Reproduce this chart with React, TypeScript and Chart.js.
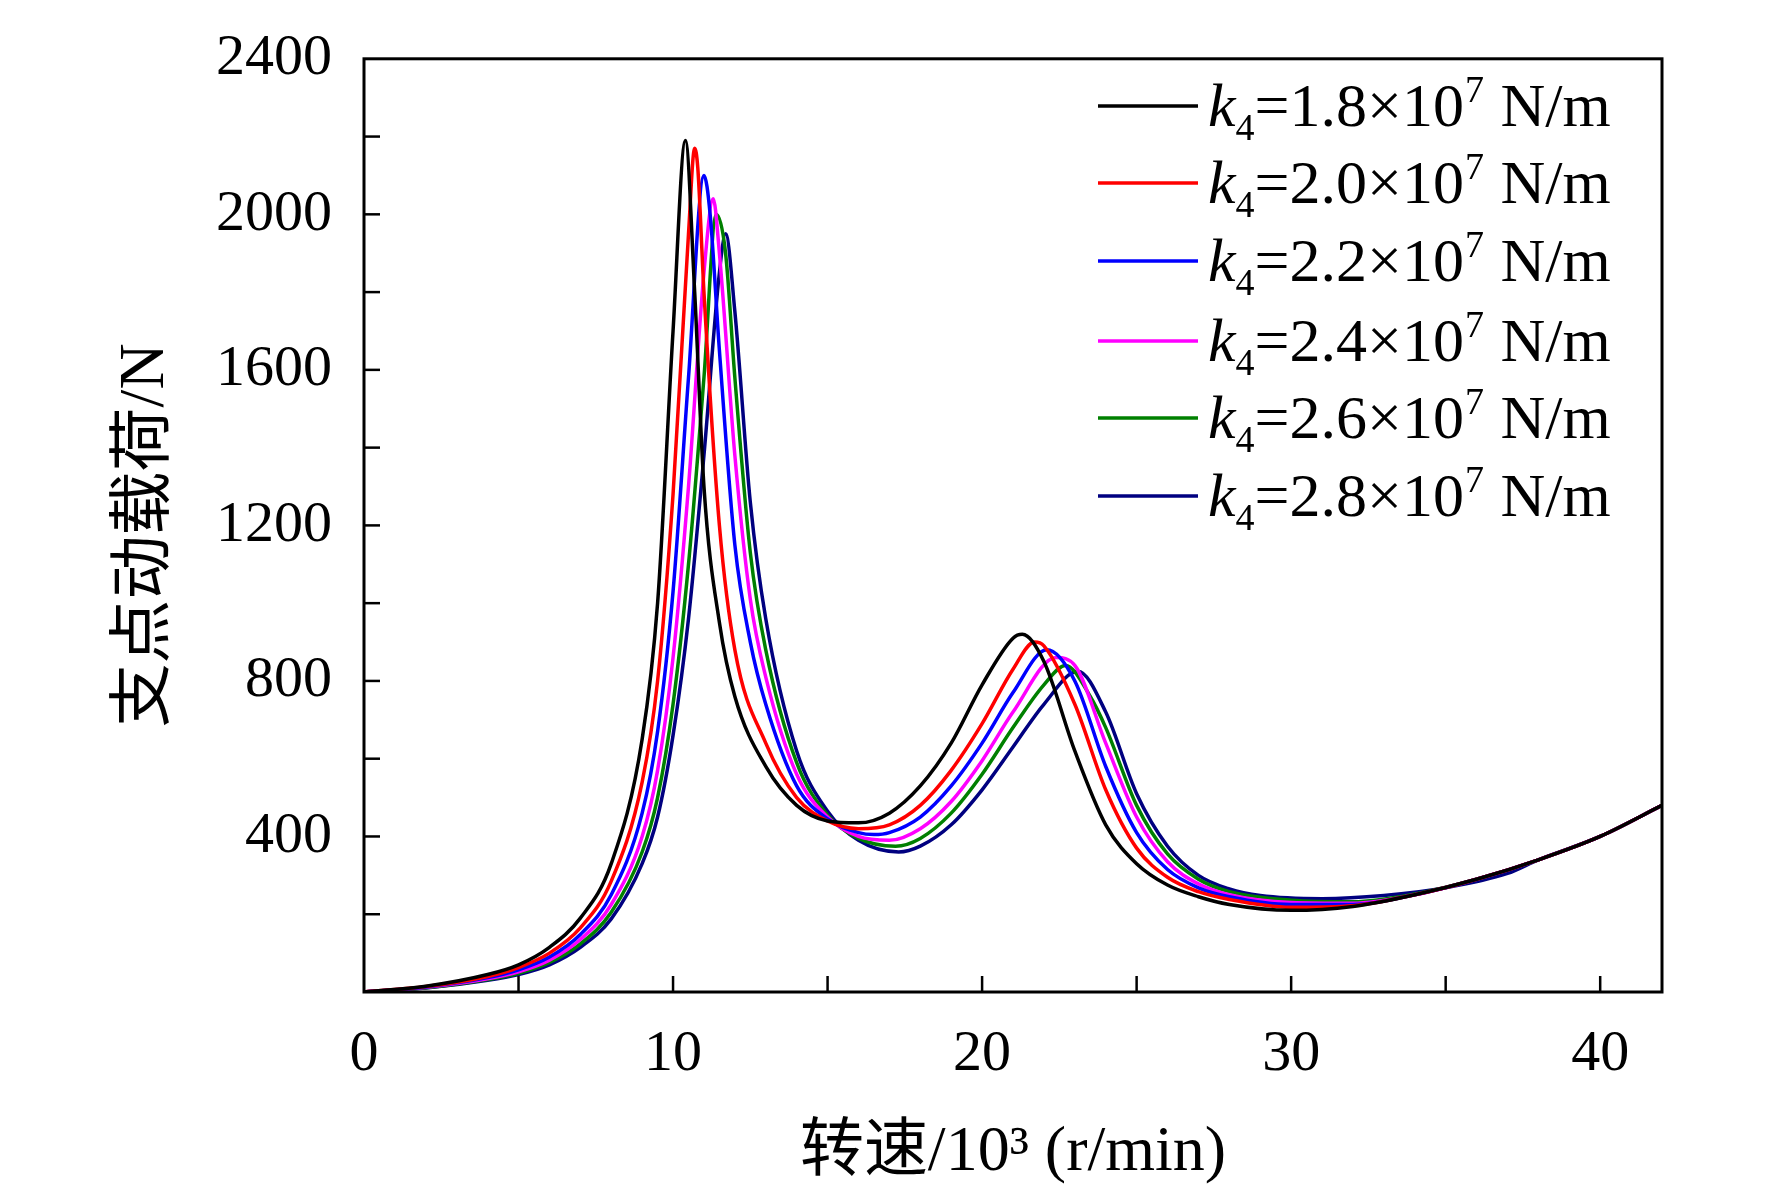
import React, { useEffect, useRef } from "react";
import { Chart, registerables } from "chart.js";
Chart.register(...registerables);

const seriesLabels = ["1.8", "2.0", "2.2", "2.4", "2.6", "2.8"];
const seriesColors = ["#000000", "#ff0000", "#0000ff", "#ff00ff", "#008000", "#000080"];

const xK18 = [0, 2, 4, 5, 6, 7, 8, 9, 9.5, 10, 10.4, 10.7, 11, 11.5, 12, 13, 14, 15, 16, 17, 18, 19, 20, 21, 21.3, 22, 23, 24, 25, 26, 27, 28, 30, 32, 34, 36, 38, 40, 42];
const yK18 = [0, 15, 45, 70, 115, 190, 330, 650, 1000, 1700, 2190, 1800, 1300, 950, 760, 580, 480, 440, 435, 460, 530, 640, 790, 910, 920, 850, 620, 430, 330, 275, 245, 225, 210, 220, 250, 290, 340, 400, 480];

const xK20 = [0, 2, 4, 5, 6, 7, 8, 9, 9.5, 10, 10.5, 10.7, 10.8, 11, 11.5, 12, 13, 14, 15, 16, 17, 18, 19, 20, 21, 21.7, 22, 23, 24, 25, 26, 27, 28, 30, 32, 34, 36, 38, 40, 42];
const yK20 = [0, 14, 40, 63, 100, 165, 285, 540, 800, 1280, 1950, 2170, 2120, 1800, 1200, 880, 640, 500, 440, 420, 430, 480, 570, 690, 830, 900, 890, 740, 520, 370, 295, 258, 238, 218, 222, 250, 290, 340, 400, 480];

const xK22 = [0, 2, 4, 5, 6, 7, 8, 9, 9.5, 10, 10.5, 11, 11.2, 11.5, 12, 12.5, 13, 14, 15, 16, 16.5, 17, 18, 19, 20, 21, 22.1, 23, 24, 25, 26, 27, 28, 30, 32, 34, 36, 38, 40, 42];
const yK22 = [0, 13, 37, 57, 90, 148, 250, 460, 670, 1030, 1580, 2100, 2000, 1650, 1150, 900, 740, 530, 445, 410, 405, 410, 450, 530, 640, 770, 880, 800, 580, 410, 315, 268, 245, 225, 225, 250, 290, 340, 400, 480];

const xK24 = [0, 2, 4, 5, 6, 7, 8, 9, 9.5, 10, 10.5, 11, 11.3, 11.5, 12, 12.5, 13, 14, 15, 16, 17, 18, 19, 20, 21, 22.4, 23, 24, 25, 26, 27, 28, 30, 32, 34, 36, 38, 40, 42];
const yK24 = [0, 12, 34, 52, 82, 135, 225, 400, 570, 860, 1300, 1850, 2040, 1900, 1380, 1010, 810, 560, 450, 400, 390, 420, 490, 595, 720, 860, 840, 640, 450, 335, 278, 250, 230, 228, 250, 290, 340, 400, 480];

const xK26 = [0, 2, 4, 5, 6, 7, 8, 9, 9.5, 10, 10.5, 11, 11.4, 11.7, 12, 12.5, 13, 14, 15, 16, 17.2, 18, 19, 20, 21, 22, 22.7, 23.5, 24, 25, 26, 27, 28, 30, 32, 34, 36, 38, 40, 42];
const yK26 = [0, 11, 32, 48, 76, 124, 205, 360, 500, 740, 1100, 1580, 2000, 1900, 1580, 1130, 880, 590, 455, 395, 375, 395, 460, 560, 680, 790, 840, 760, 680, 480, 355, 290, 258, 236, 232, 252, 290, 340, 400, 480];

const xK28 = [0, 2, 4, 5, 6, 7, 8, 9, 9.5, 10, 10.5, 11, 11.5, 11.7, 12, 12.5, 13, 14, 15, 16, 17.3, 18, 19, 20, 21, 22, 23.1, 24, 25, 26, 27, 28, 29, 31, 33, 35, 37, 38, 40, 42];
const yK28 = [0, 10, 30, 45, 70, 115, 188, 330, 450, 660, 960, 1380, 1850, 1950, 1750, 1260, 960, 620, 465, 390, 360, 375, 430, 520, 630, 740, 825, 720, 510, 375, 300, 265, 248, 240, 248, 268, 305, 340, 400, 480];

const seriesX = [xK18, xK20, xK22, xK24, xK26, xK28];
const seriesY = [yK18, yK20, yK22, yK24, yK26, yK28];

const yLabels = [400, 800, 1200, 1600, 2000, 2400];
const xLabels = [0, 10, 20, 30, 40];

const SERIF = "'Liberation Serif', 'Times New Roman', 'Noto Sans CJK SC', serif";

const decor = {
  id: "decor",
  afterDraw(chart: any) {
    const { ctx, chartArea: a, scales } = chart;
    const xs = scales.x, ys = scales.y;
    ctx.save();
    ctx.strokeStyle = "#000";
    ctx.lineWidth = 3;
    ctx.strokeRect(a.left, a.top, a.right - a.left, a.bottom - a.top);
    ctx.lineWidth = 2.5;
    for (let v = 5; v < 42; v += 5) {
      const px = xs.getPixelForValue(v);
      ctx.beginPath(); ctx.moveTo(px, a.bottom); ctx.lineTo(px, a.bottom - 16); ctx.stroke();
    }
    for (let v = 200; v < 2400; v += 200) {
      const py = ys.getPixelForValue(v);
      ctx.beginPath(); ctx.moveTo(a.left, py); ctx.lineTo(a.left + 16, py); ctx.stroke();
    }
    const rows = [106, 183, 261, 341, 418, 496];
    ctx.textBaseline = "alphabetic";
    ctx.fillStyle = "#000";
    rows.forEach((ry, i) => {
      ctx.strokeStyle = seriesColors[i];
      ctx.lineWidth = 3.5;
      ctx.beginPath(); ctx.moveTo(1098, ry); ctx.lineTo(1198, ry); ctx.stroke();
      let x = 1208;
      const base = ry + 20;
      ctx.font = `italic 62px ${SERIF}`;
      ctx.fillText("k", x, base); x += ctx.measureText("k").width;
      ctx.font = `38px ${SERIF}`;
      ctx.fillText("4", x, base + 14); x += ctx.measureText("4").width;
      ctx.font = `62px ${SERIF}`;
      const t = "=" + seriesLabels[i] + "×10";
      ctx.fillText(t, x, base); x += ctx.measureText(t).width;
      ctx.font = `38px ${SERIF}`;
      ctx.fillText("7", x + 1, base - 24); x += ctx.measureText("7").width + 2;
      ctx.font = `62px ${SERIF}`;
      ctx.fillText(" N/m", x, base);
    });
    ctx.font = `64px ${SERIF}`;
    ctx.textAlign = "center";
    ctx.fillText("转速/10³ (r/min)", (a.left + a.right) / 2, 1170);
    ctx.translate(146, (a.top + a.bottom) / 2 + 10);
    ctx.rotate(-Math.PI / 2);
    ctx.textBaseline = "middle";
    ctx.fillText("支点动载荷/N", 0, 0);
    ctx.restore();
  },
};

export default function App() {
  const ref = useRef<HTMLCanvasElement>(null);
  useEffect(() => {
    document.body.style.margin = "0";
    const chart = new Chart(ref.current!, {
      type: "line",
      data: {
        datasets: seriesLabels.map((l, i) => ({
          label: l,
          data: seriesX[i].map((x, j) => ({ x, y: seriesY[i][j] })),
          borderColor: seriesColors[i],
          borderWidth: 3.5,
          pointRadius: 0,
          cubicInterpolationMode: "monotone" as const,
          fill: false,
        })),
      },
      options: {
        responsive: false,
        animation: false,
        layout: { padding: { top: 22, right: 110, left: 0, bottom: 0 } },
        plugins: { legend: { display: false }, tooltip: { enabled: false } },
        scales: {
          x: {
            type: "linear", min: 0, max: 42,
            grid: { display: false }, border: { display: false },
            afterFit: (s: any) => { s.height = 194; },
            afterBuildTicks: (s: any) => { s.ticks = xLabels.map((v) => ({ value: v })); },
            ticks: { color: "#000", padding: 20, font: { family: SERIF, size: 58 }, maxRotation: 0, callback: (v: any) => String(v) },
          },
          y: {
            type: "linear", min: 0, max: 2400,
            grid: { display: false }, border: { display: false },
            afterFit: (s: any) => { s.width = 364; },
            afterBuildTicks: (s: any) => { s.ticks = yLabels.map((v) => ({ value: v })); },
            ticks: { color: "#000", padding: 24, font: { family: SERIF, size: 58 }, callback: (v: any) => String(v) },
          },
        },
      },
      plugins: [decor],
    });
    return () => chart.destroy();
  }, []);
  return <canvas ref={ref} width={1772} height={1186} style={{ display: "block" }} />;
}
